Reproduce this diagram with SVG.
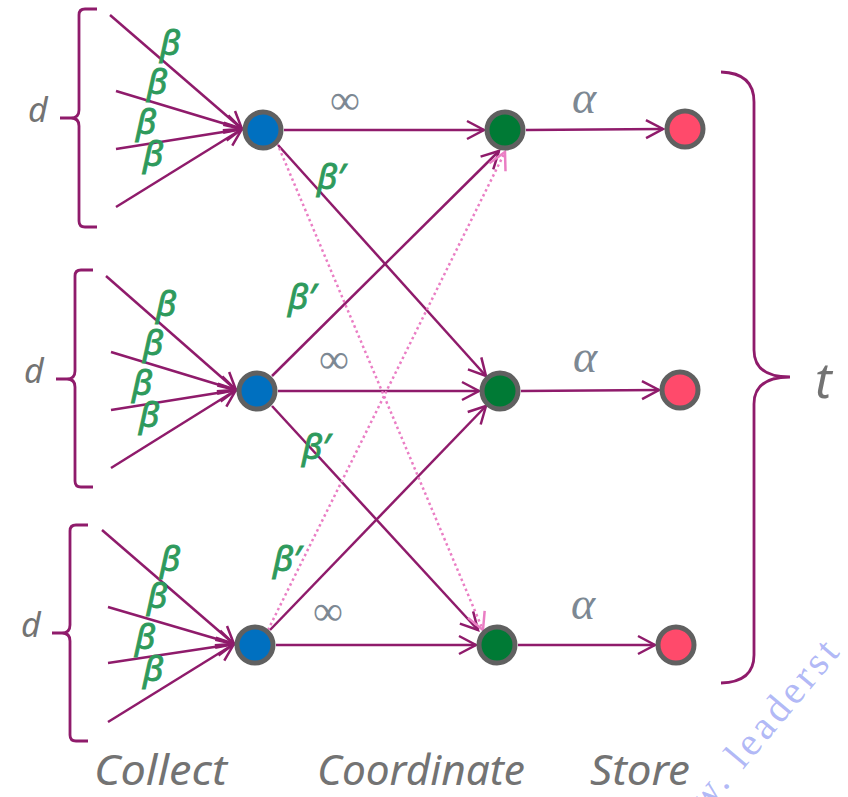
<svg xmlns="http://www.w3.org/2000/svg" width="848" height="797" viewBox="0 0 848 797">
<style>
.ln{stroke:#8f1b6b;stroke-width:2.5;fill:none;marker-end:url(#ah)}
.dot{stroke:#ea7ec4;stroke-width:2.5;fill:none;stroke-dasharray:2.5 3;marker-end:url(#ahp)}
.br{stroke:#8f1b6b;stroke-width:2.8;fill:none}
.nd{stroke:#606060;stroke-width:5}
.blue{fill:#0070c0}.green{fill:#007a35}.red{fill:#ff4a6b}
.beta{font-family:"Noto Sans","DejaVu Sans",sans-serif;font-style:italic;font-size:35px;fill:#2e9a5c;stroke:#2e9a5c;stroke-width:0.9}
.lab{font-family:"Noto Sans","DejaVu Sans",sans-serif;font-style:italic;fill:#737373}
.sym{font-family:"Liberation Serif","DejaVu Serif",serif;fill:#7d8893;text-anchor:middle}
</style>
<defs>
<marker id="ah" markerUnits="userSpaceOnUse" markerWidth="30" markerHeight="30" viewBox="-22 -15 30 30" refX="0" refY="0" orient="auto">
<path d="M-17,-9 L0,0 L-17,9" fill="none" stroke="#8f1b6b" stroke-width="2.5"/>
</marker>
<marker id="ahp" markerUnits="userSpaceOnUse" markerWidth="30" markerHeight="30" viewBox="-22 -15 30 30" refX="0" refY="0" orient="auto">
<path d="M-17,-9 L0,0 L-17,9" fill="none" stroke="#ea7ec4" stroke-width="2.5"/>
</marker>
</defs>

<!-- watermark -->
<text x="663" y="865" transform="rotate(-50 663 865)" font-family="Liberation Serif, serif" font-size="40" letter-spacing="4" fill="#a7b0f5" fill-opacity="0.9">www. leaderst</text>

<g id="brackets">
<path class="br" d="M97,9 H85 Q79,9 79,15 V110 Q79,118 71,118 H60 M71,118 Q79,118 79,126 V221 Q79,227 85,227 H97"/>
<path class="br" d="M93,270 H81 Q75,270 75,276 V371 Q75,379 67,379 H56 M67,379 Q75,379 75,387 V481 Q75,487 81,487 H93"/>
<path class="br" d="M88,525 H76 Q70,525 70,531 V625 Q70,633 62,633 H52 M62,633 Q70,633 70,641 V735 Q70,741 76,741 H88"/>
<path class="br" d="M721,72 Q754,73 754,102 V350 Q754,377 790,377 Q754,377 754,404 V655 Q754,682 721,683"/>
</g>

<g id="connectors">
<line class="ln" x1="110" y1="15" x2="242" y2="129"/>
<line class="ln" x1="116" y1="91" x2="242" y2="129"/>
<line class="ln" x1="116" y1="149" x2="242" y2="129"/>
<line class="ln" x1="116" y1="207" x2="242" y2="129"/>
<line class="ln" x1="106" y1="276" x2="236" y2="390"/>
<line class="ln" x1="111" y1="352" x2="236" y2="390"/>
<line class="ln" x1="111" y1="410" x2="236" y2="390"/>
<line class="ln" x1="111" y1="468" x2="236" y2="390"/>
<line class="ln" x1="102" y1="530" x2="234" y2="644"/>
<line class="ln" x1="108" y1="607" x2="234" y2="644"/>
<line class="ln" x1="108" y1="663" x2="234" y2="644"/>
<line class="ln" x1="108" y1="722" x2="234" y2="644"/>
<line class="ln" x1="284" y1="130" x2="484" y2="130"/>
<line class="ln" x1="278" y1="391" x2="479" y2="391"/>
<line class="ln" x1="276" y1="645" x2="476" y2="645"/>
<line class="ln" x1="278" y1="145" x2="486" y2="376"/>
<line class="ln" x1="272" y1="376" x2="499" y2="151"/>
<line class="ln" x1="272" y1="406" x2="478" y2="630"/>
<line class="ln" x1="270" y1="630" x2="486" y2="406"/>
<line class="dot" x1="277" y1="143" x2="483" y2="630"/>
<line class="dot" x1="268" y1="630" x2="505" y2="152"/>
<line class="ln" x1="526" y1="130" x2="663" y2="129"/>
<line class="ln" x1="521" y1="391" x2="659" y2="390"/>
<line class="ln" x1="518" y1="645" x2="655" y2="645"/>
</g>

<g id="blue1"><circle class="nd blue" cx="263" cy="130" r="18"/></g>
<g id="blue2"><circle class="nd blue" cx="257" cy="391" r="18"/></g>
<g id="blue3"><circle class="nd blue" cx="255" cy="645" r="18"/></g>
<g id="green1"><circle class="nd green" cx="505" cy="130" r="18"/></g>
<g id="green2"><circle class="nd green" cx="500" cy="391" r="18"/></g>
<g id="green3"><circle class="nd green" cx="497" cy="645" r="18"/></g>
<g id="red1"><circle class="nd red" cx="685" cy="129" r="18"/></g>
<g id="red2"><circle class="nd red" cx="680" cy="390" r="18"/></g>
<g id="red3"><circle class="nd red" cx="676" cy="645" r="18"/></g>

<g id="labels">
<text class="beta" x="160" y="55">β</text>
<text class="beta" x="147" y="94">β</text>
<text class="beta" x="136" y="134">β</text>
<text class="beta" x="143" y="166">β</text>
<text class="beta" x="156" y="316">β</text>
<text class="beta" x="143" y="355">β</text>
<text class="beta" x="132" y="395">β</text>
<text class="beta" x="139" y="427">β</text>
<text class="beta" x="160" y="571">β</text>
<text class="beta" x="147" y="608">β</text>
<text class="beta" x="135" y="649">β</text>
<text class="beta" x="143" y="681">β</text>
<text class="beta" x="317" y="189">β′</text>
<text class="beta" x="288" y="309">β′</text>
<text class="beta" x="302" y="459">β′</text>
<text class="beta" x="273" y="571">β′</text>
<text class="sym" x="345" y="114" font-size="42">∞</text>
<text class="sym" x="334" y="373" font-size="42">∞</text>
<text class="sym" x="328" y="625" font-size="42">∞</text>
<text class="sym" x="584" y="113" font-size="46" font-style="italic">α</text>
<text class="sym" x="585" y="372" font-size="46" font-style="italic">α</text>
<text class="sym" x="583" y="619" font-size="46" font-style="italic">α</text>
<text class="lab" x="28" y="122" font-size="34">d</text>
<text class="lab" x="24" y="383" font-size="34">d</text>
<text class="lab" x="21" y="637" font-size="34">d</text>
<text class="lab" x="815" y="398" font-size="50">t</text>
<text class="lab" x="94" y="785" font-size="42" textLength="133" lengthAdjust="spacingAndGlyphs">Collect</text>
<text class="lab" x="317" y="785" font-size="42" textLength="208" lengthAdjust="spacingAndGlyphs">Coordinate</text>
<text class="lab" x="590" y="785" font-size="42" textLength="100" lengthAdjust="spacingAndGlyphs">Store</text>
</g>
</svg>
